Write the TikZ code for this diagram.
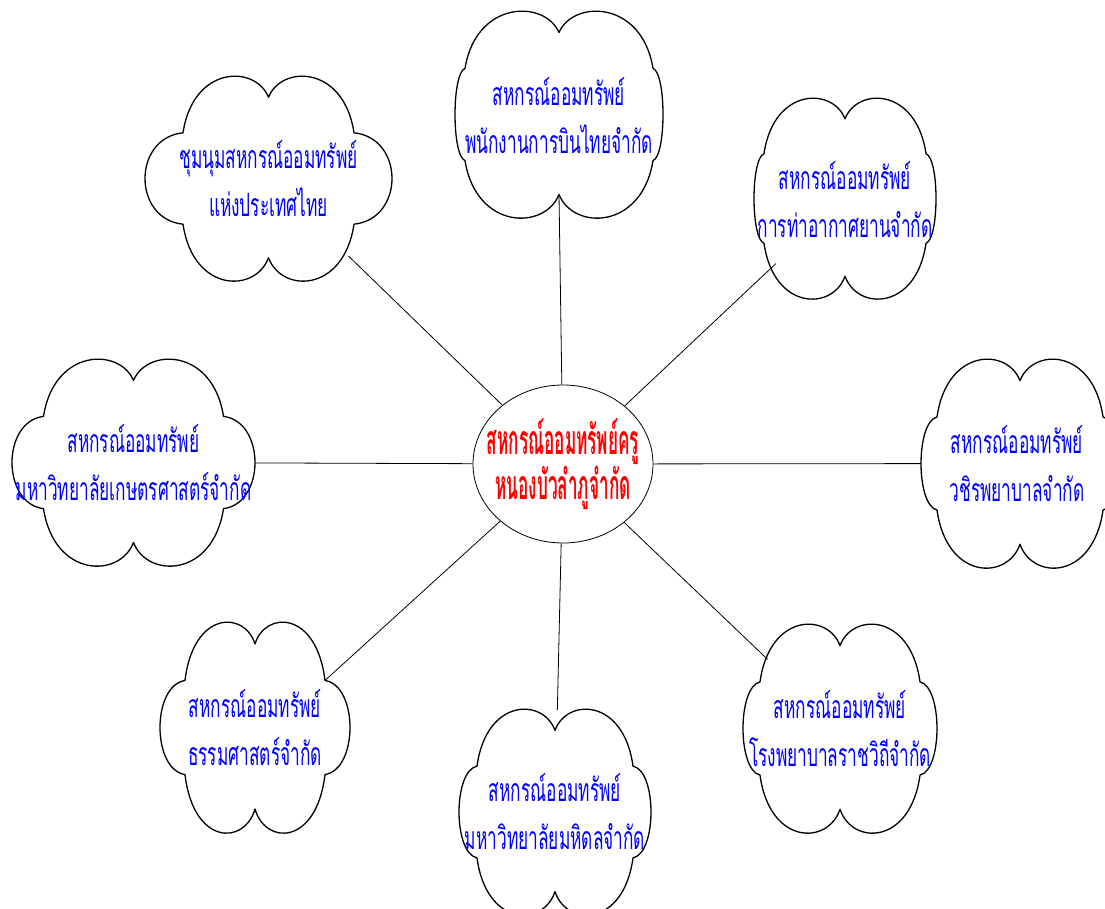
\documentclass[tikz,border=0pt]{standalone}
\usepackage{fontspec}
\newfontfamily\thaifont[Script=Thai,FakeStretch=0.54]{Loma}
\newfontfamily\thaiboldfont[Script=Thai,FakeStretch=0.42]{Loma Bold}
\usetikzlibrary{shapes.geometric}
\definecolor{tblue}{RGB}{0,0,255}
\definecolor{tred}{RGB}{255,0,0}
% #1 name, #2 cx, #3 cy, #4 half width, #5 half height, #6 side junction offset
\newcommand\drawcloud[6]{%
  \node[cloudanchor, minimum width={2*#4*1pt}, minimum height={2*#5*1pt}] (#1) at (#2,#3) {};
  \coordinate (#1-top) at (#2,{#3-0.80*#5});
  \coordinate (#1-bot) at (#2,{#3+0.78*#5});
  \coordinate (#1-ur) at ({#2+#6},{#3-0.45*#5});
  \coordinate (#1-ul) at ({#2-#6},{#3-0.45*#5});
  \begin{scope}[shift={(#2,#3)}]
    \pgfmathsetmacro\cldX{(8*#4-2*#6)/6}
    \draw[cloudline] (-#6,{-0.45*#5})
      .. controls ({-0.88*#6},{-1.12*#5}) and ({-0.15*#6},{-1.12*#5}) .. (0,{-0.80*#5})
      .. controls ({0.15*#6},{-1.12*#5}) and ({0.88*#6},{-1.12*#5}) .. (#6,{-0.45*#5})
      .. controls (\cldX,{-0.40*#5}) and (\cldX,{0.40*#5}) .. (#6,{0.45*#5})
      .. controls ({0.88*#6},{1.13*#5}) and ({0.15*#6},{1.13*#5}) .. (0,{0.78*#5})
      .. controls ({-0.15*#6},{1.13*#5}) and ({-0.88*#6},{1.13*#5}) .. (-#6,{0.45*#5})
      .. controls (-\cldX,{0.40*#5}) and (-\cldX,{-0.40*#5}) .. cycle;
  \end{scope}}
\begin{document}
\begin{tikzpicture}[x=1pt,y=-1pt,
  cloudanchor/.style={ellipse, draw=none, inner sep=0pt},
  cloudline/.style={draw=black, line width=1.3pt, line join=round},
  hub/.style={ellipse, draw=black, line width=0.8pt, inner sep=0pt,
    minimum width=180pt, minimum height=158pt},
  bluetext/.style={align=center, text=tblue, inner sep=0pt,
    font=\thaifont\fontsize{32}{48}\selectfont},
  redtext/.style={align=center, text=tred, inner sep=0pt,
    font=\thaiboldfont\fontsize{41}{43}\selectfont},
  conn/.style={draw=black, line width=0.8pt}]
\useasboundingbox[fill=white] (0,0) rectangle (1105,909);

\node[hub] (c) at (563,464) {};
\node[redtext] (t0) at (563,464) {สหกรณ์ออมทรัพย์ครู\\หนองบัวลำภูจำกัด};

\drawcloud{n1}{268.5}{178.5}{123.5}{101.5}{85.5}
\drawcloud{n2}{559}{114.5}{104}{102.5}{94}
\drawcloud{n3}{845}{198.5}{91}{99.5}{81}
\drawcloud{n4}{133.5}{462.5}{121.5}{102.5}{90}
\drawcloud{n5}{1020}{463.5}{99}{103.5}{83}
\drawcloud{n6}{255}{727.5}{95}{104.5}{70}
\drawcloud{n7}{555}{812}{96}{102}{78}
\drawcloud{n8}{840}{728.5}{97}{103.5}{80}

\node[bluetext] (t1) at (268.5,178.5) {ชุมนุมสหกรณ์ออมทรัพย์\\แห่งประเทศไทย};
\node[bluetext] (t2) at (559,116) {สหกรณ์ออมทรัพย์\\พนักงานการบินไทยจำกัด};
\node[bluetext] (t3) at (845,199.5) {สหกรณ์ออมทรัพย์\\การท่าอากาศยานจำกัด};
\node[bluetext] (t4) at (133.5,462.5) {สหกรณ์ออมทรัพย์\\มหาวิทยาลัยเกษตรศาสตร์จำกัด};
\node[bluetext] (t5) at (1017,463.5) {สหกรณ์ออมทรัพย์\\วชิรพยาบาลจำกัด};
\node[bluetext] (t6) at (255,727.5) {สหกรณ์ออมทรัพย์\\ธรรมศาสตร์จำกัด};
\node[bluetext] (t7) at (555,812) {สหกรณ์ออมทรัพย์\\มหาวิทยาลัยมหิดลจำกัด};
\node[bluetext] (t8) at (840,728.5) {สหกรณ์ออมทรัพย์\\โรงพยาบาลราชวิถีจำกัด};

\draw[conn] (c) -- (n1);
\draw[conn] (c) -- (n2-bot);
\draw[conn] (c) -- (n3);
\draw[conn] (c) -- (n4);
\draw[conn] (c) -- (n5);
\draw[conn] (c) -- (n6-ur);
\draw[conn] (c) -- (n7);
\draw[conn] (c) -- (n8);
\end{tikzpicture}
\end{document}
